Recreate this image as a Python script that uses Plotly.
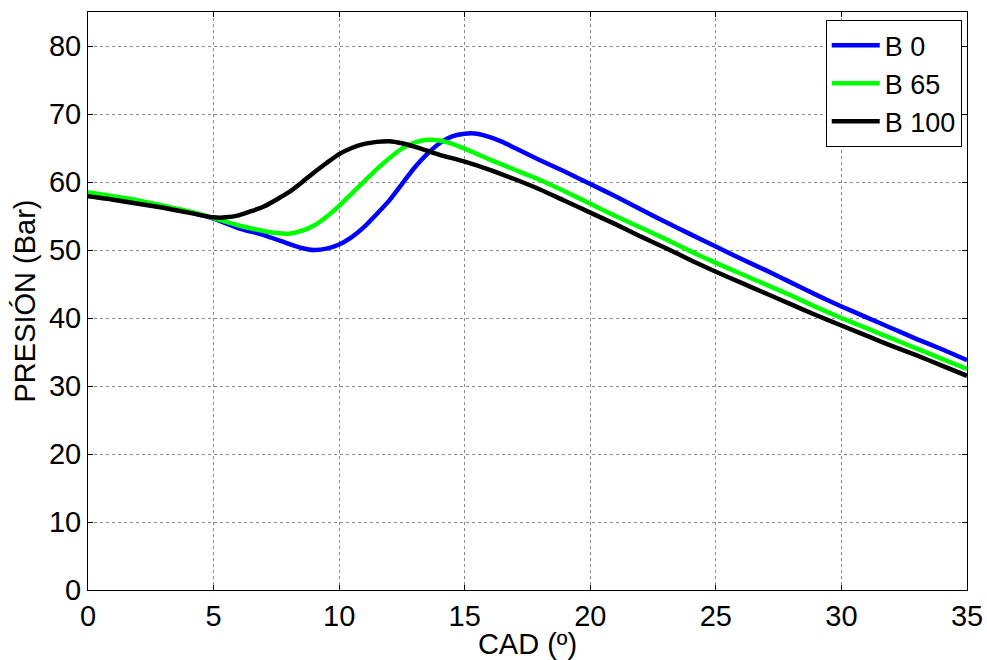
import plotly.graph_objects as go

# ---- data ----
x_b0 = [0, 1, 2, 3, 4, 5, 6, 7, 8, 8.5, 9, 9.5, 10, 10.5, 11, 11.5, 12, 12.5, 13, 13.5, 14, 14.5,
        15, 15.5, 16, 16.5, 17, 18, 19, 20, 21, 22, 23, 24, 25, 26, 27, 28, 29, 30, 31, 32, 33, 34, 35]
y_b0 = [58.2, 57.7, 57.1, 56.4, 55.6, 54.6, 53.2, 52.2, 50.9, 50.3, 50.0, 50.2, 50.8, 51.9, 53.4, 55.3,
        57.3, 59.7, 62.1, 64.1, 65.7, 66.7, 67.1, 67.1, 66.6, 65.9, 65.0, 63.2, 61.5, 59.7, 57.9, 56.0,
        54.1, 52.3, 50.5, 48.7, 47.0, 45.2, 43.4, 41.7, 40.1, 38.5, 36.9, 35.4, 33.8]

x_b65 = [0, 1, 2, 3, 4, 5, 6, 7, 7.5, 8, 8.5, 9, 9.5, 10, 10.5, 11, 11.5, 12, 12.5, 13, 13.5, 14, 14.5,
         15, 16, 17, 18, 19, 20, 21, 22, 23, 24, 25, 26, 27, 28, 29, 30, 31, 32, 33, 34, 35]
y_b65 = [58.5, 57.9, 57.3, 56.5, 55.7, 54.7, 53.6, 52.8, 52.5, 52.4, 52.8, 53.6, 54.9, 56.5, 58.3, 60.1,
         61.9, 63.5, 64.9, 65.8, 66.2, 66.1, 65.6, 64.9, 63.3, 61.8, 60.3, 58.6, 56.8, 55.0, 53.3, 51.6,
         49.8, 48.1, 46.5, 44.9, 43.3, 41.6, 40.0, 38.5, 37.0, 35.5, 34.0, 32.5]

x_b100 = [0, 1, 2, 3, 4, 5, 5.5, 6, 6.5, 7, 7.5, 8, 8.5, 9, 9.5, 10, 10.5, 11, 11.5, 12, 12.5, 13, 13.5,
          14, 15, 16, 17, 18, 19, 20, 21, 22, 23, 24, 25, 26, 27, 28, 29, 30, 31, 32, 33, 34, 35]
y_b100 = [57.9, 57.4, 56.8, 56.2, 55.5, 54.8, 54.8, 55.1, 55.7, 56.4, 57.4, 58.5, 59.9, 61.4, 62.8, 64.1,
          65.0, 65.6, 65.9, 66.0, 65.7, 65.2, 64.6, 64.0, 63.0, 61.8, 60.4, 58.9, 57.2, 55.5, 53.8, 52.0,
          50.3, 48.5, 46.8, 45.2, 43.6, 42.0, 40.4, 38.9, 37.4, 35.9, 34.5, 33.0, 31.5]

x_ticks = [0, 5, 10, 15, 20, 25, 30, 35]
y_ticks = [0, 10, 20, 30, 40, 50, 60, 70, 80]

series = [
    ("B 0", x_b0, y_b0, "#0000FF"),
    ("B 65", x_b65, y_b65, "#00FF00"),
    ("B 100", x_b100, y_b100, "#000000"),
]

FONT = "Liberation Sans, Arial, sans-serif"
FS = 29

fig = go.Figure()
for name, xs, ys, col in series:
    fig.add_trace(go.Scatter(x=xs, y=ys, mode="lines", name=name,
                             line=dict(color=col, width=4.5, shape="spline", smoothing=0.6)))

axis_common = dict(
    showline=True, linecolor="black", linewidth=1, mirror="ticks",
    ticks="inside", ticklen=5, tickcolor="black", tickwidth=1,
    showgrid=True, gridcolor="#8c8c8c", griddash="dot", gridwidth=1,
    zeroline=False, automargin=False,
    tickfont=dict(family=FONT, size=FS, color="black"),
)

fig.update_xaxes(range=[0, 35], tickvals=x_ticks, ticktext=[str(v) for v in x_ticks],
                 title=dict(text="CAD (º)", font=dict(family=FONT, size=FS, color="black"), standoff=0),
                 **axis_common)
fig.update_yaxes(range=[0, 85], tickvals=y_ticks, ticktext=[str(v) for v in y_ticks],
                 title=dict(text="PRESIÓN (Bar)", font=dict(family=FONT, size=FS, color="black"), standoff=4),
                 **axis_common)

fig.update_layout(
    width=987, height=660,
    margin=dict(l=88, r=20, t=12, b=70, autoexpand=False),
    paper_bgcolor="white", plot_bgcolor="white",
    font=dict(family=FONT, size=FS, color="black"),
    legend=dict(x=0.994, y=0.986, xanchor="right", yanchor="top",
                bgcolor="white", bordercolor="black", borderwidth=1,
                font=dict(family=FONT, size=27, color="black"),
                itemwidth=48, tracegroupgap=0),
    showlegend=True,
)

fig.write_html("out.html")
